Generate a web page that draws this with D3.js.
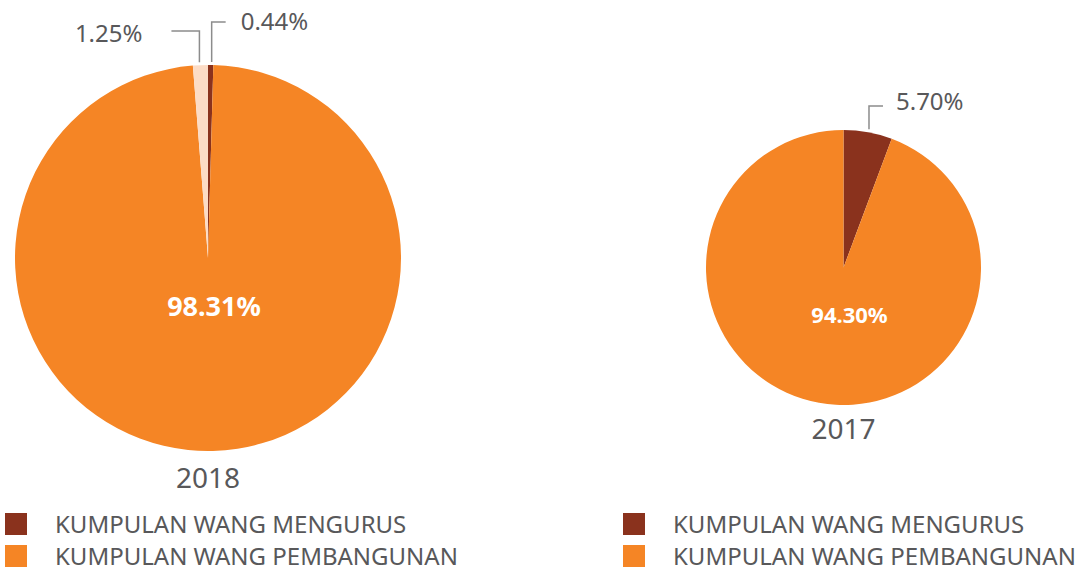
<!DOCTYPE html>
<html>
<head>
<meta charset="utf-8">
<script src="https://cdn.jsdelivr.net/npm/d3@7"></script>
<style>
  body { margin: 0; background: #fff; }
  text { font-family: "Noto Sans", "Open Sans", sans-serif; }
</style>
</head>
<body>
<div id="chart"></div>
<script>
// data
const categories = ["KUMPULAN WANG MENGURUS", "KUMPULAN WANG PEMBANGUNAN", "LAIN-LAIN"];
const values2018 = [0.44, 98.31, 1.25];
const values2017 = [5.70, 94.30];
const years = ["2018", "2017"];

const width = 1083, height = 572;
const colors = d3.scaleOrdinal()
    .domain(categories)
    .range(["#8a321d", "#f58525", "#fcdcc6"]);
const textColor = "#58585a";

const svg = d3.select("#chart").append("svg")
    .attr("width", width)
    .attr("height", height);

const pie = d3.pie().sort(null).value(d => d.value);

function drawPie(vals, cx, cy, r, year, yearY, mainSize, mainY) {
    const g = svg.append("g").attr("transform", `translate(${cx},${cy})`);
    const data = vals.map((v, i) => ({ cat: categories[i], value: v }));
    const arcs = pie(data);
    const arc = d3.arc().innerRadius(0).outerRadius(r);

    g.selectAll("path")
        .data(arcs)
        .join("path")
        .attr("d", arc)
        .attr("fill", d => colors(d.data.cat));

    // big slice label in the middle
    const big = arcs.find(d => d.data.value > 50);
    g.append("text")
        .attr("x", 6)
        .attr("y", mainY)
        .attr("text-anchor", "middle")
        .attr("fill", "#fff")
        .style("font-weight", "bold")
        .style("font-size", mainSize + "px")
        .text(big.data.value.toFixed(2) + "%");

    g.append("text")
        .attr("x", 0)
        .attr("y", yearY)
        .attr("text-anchor", "middle")
        .attr("fill", textColor)
        .style("font-size", "28px")
        .text(year);
    return { g, arcs, r };
}

// leader line callouts for small slices
function callout(p, idx, rise, dir, len, gap, dy) {
    const d = p.arcs[idx];
    const mid = (d.startAngle + d.endAngle) / 2;
    const x0 = Math.sin(mid) * p.r + (dir > 0 ? 1 : -1);
    const y0 = -Math.cos(mid) * p.r - 3;
    const y1 = -p.r - rise;
    const x1 = x0 + dir * len;
    p.g.append("path")
        .attr("d", `M${x0},${y0}V${y1}H${x1}`)
        .attr("fill", "none")
        .attr("stroke", "#8c8c8c")
        .attr("stroke-width", 1.5);
    p.g.append("text")
        .attr("x", x1 + dir * gap)
        .attr("y", y1 + dy)
        .attr("text-anchor", dir > 0 ? "start" : "end")
        .attr("fill", textColor)
        .style("font-size", "24px")
        .text(d.data.value.toFixed(2) + "%");
}

const p1 = drawPie(values2018, 208, 258, 193, years[0], 230, 27, 58);
callout(p1, 0, 43, 1, 14, 15, 8);
callout(p1, 2, 34, -1, 28, 29, 11);

const p2 = drawPie(values2017, 843.5, 267.5, 137.5, years[1], 171, 22, 55);
callout(p2, 0, 24, 1, 14, 13, 4);

// legends
function legend(x) {
    const lg = svg.append("g").attr("transform", `translate(${x},512)`);
    const items = lg.selectAll("g")
        .data(categories.slice(0, 2))
        .join("g")
        .attr("transform", (d, i) => `translate(0,${i * 32})`);
    items.append("rect")
        .attr("y", 1)
        .attr("width", 22).attr("height", 22)
        .attr("fill", d => colors(d));
    items.append("text")
        .attr("x", 50)
        .attr("y", 21)
        .attr("fill", textColor)
        .style("font-size", "24px")
        .text(d => d);
}
legend(5);
legend(623);
</script>
</body>
</html>
